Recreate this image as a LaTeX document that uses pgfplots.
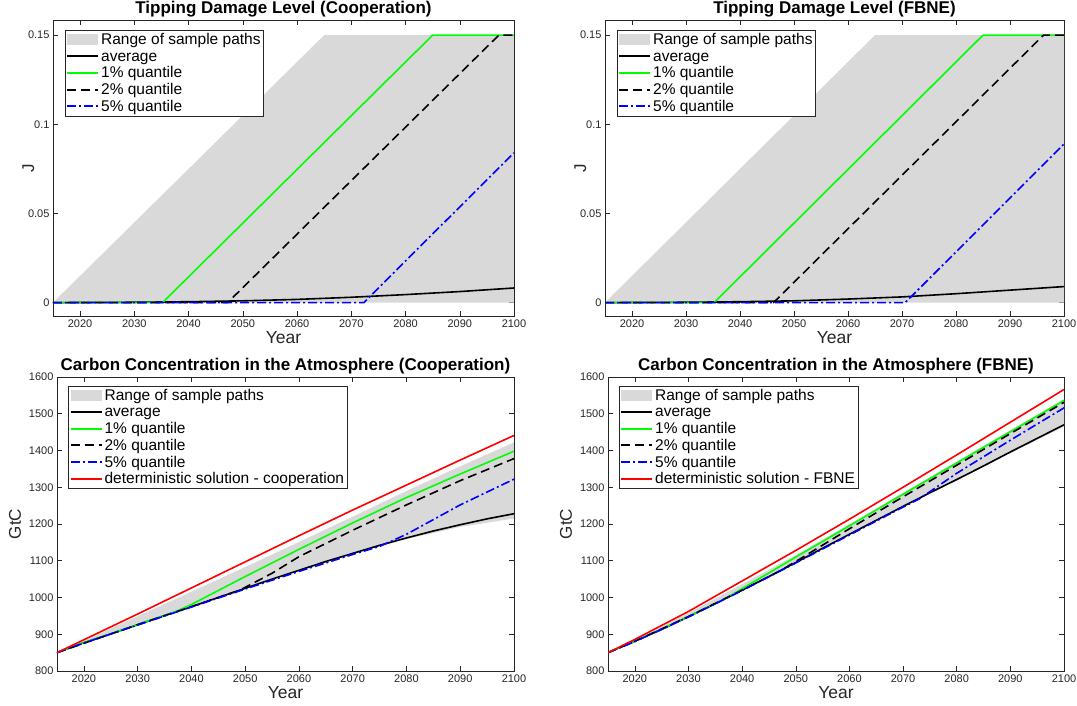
\documentclass[border=0pt]{standalone}
\usepackage{pgfplots}
\pgfplotsset{compat=1.18}
\usepackage{fontspec}
\setmainfont{Liberation Sans}
\definecolor{axgray}{rgb}{0.15,0.15,0.15}
\definecolor{rangegray}{rgb}{0.85,0.85,0.85}
\definecolor{mgreen}{rgb}{0,1,0}
\definecolor{mblue}{rgb}{0,0,1}
\definecolor{mred}{rgb}{1,0,0}
\pgfplotsset{
  mystyle/.style={
    scale only axis,
    xmin=2015, xmax=2100,
    xtick={2020,2030,...,2100},
    axis line style={axgray, line width=0.5pt},
    tick style={axgray, line width=0.5pt},
    tick align=inside,
    major tick length=5pt,
    xtick pos=both, ytick pos=both,
    ticklabel style={font=\fontsize{11}{12}\selectfont, text=axgray},
    /pgf/number format/assume math mode=true,
    /pgf/number format/1000 sep={},
    xlabel={Year},
    xlabel style={font=\fontsize{17.5}{19}\selectfont, text=axgray, yshift=3pt},
    ylabel style={font=\fontsize{17}{19}\selectfont, text=axgray},
    title style={font=\fontsize{17}{19}\bfseries\selectfont, yshift=-7pt},
    legend cell align=left,
    legend style={font=\fontsize{15.5}{15.5}\selectfont, draw=axgray,
      anchor=north west, inner sep=1pt, row sep=0pt,
      /tikz/every even column/.append style={text height=11.2pt, text depth=3.3pt, inner ysep=0.6pt}},
  },
  arealeg/.style={legend image code/.code={\fill[rangegray] (0pt,-5.5pt) rectangle (31pt,5.5pt);}},
  blk/.style={draw=black, line width=1.6pt,
    legend image code/.code={\draw[black, line width=2pt] (0pt,0pt) -- (31pt,0pt);}},
  grn/.style={draw=mgreen, line width=1.6pt,
    legend image code/.code={\draw[mgreen, line width=2pt] (0pt,0pt) -- (31pt,0pt);}},
  rd/.style={draw=mred, line width=1.6pt,
    legend image code/.code={\draw[mred, line width=2pt] (0pt,0pt) -- (31pt,0pt);}},
  dsh/.style={draw=black, line width=1.6pt, dash pattern=on 9pt off 5pt,
    legend image code/.code={\draw[black, line width=2pt, dash pattern=on 9pt off 5pt] (0pt,0pt) -- (31pt,0pt);}},
  dd/.style={draw=mblue, line width=1.6pt, dash pattern=on 9pt off 3pt on 2pt off 3pt,
    legend image code/.code={\draw[mblue, line width=2pt, dash pattern=on 9pt off 3pt on 2pt off 3pt] (0pt,0pt) -- (31pt,0pt);}},
}
\begin{document}
\begin{tikzpicture}
\useasboundingbox (0pt,0pt) rectangle (1077pt,706pt);

% ---------- Top left ----------
\begin{axis}[mystyle, at={(53pt,390pt)}, anchor=south west, width=461pt, height=296pt,
  ymin=-0.0075, ymax=0.1585, ytick={0,0.05,0.1,0.15},
  yticklabels={0,0.05,0.1,0.15},
  ylabel={J}, ylabel style={yshift=-13pt},
  title={Tipping Damage Level (Cooperation)},
  legend style={at={(0.026,0.966)}}]
\addplot[arealeg, fill=rangegray, draw=none] coordinates {(2015,0) (2065,0.15) (2100,0.15) (2100,0) (2015,0)} \closedcycle;
\addlegendentry{Range of sample paths}
\addplot[blk] coordinates {(2015,0) (2030,0.0002) (2040,0.0005) (2050,0.001) (2060,0.0018) (2070,0.003) (2080,0.0045) (2090,0.0062) (2100,0.0082)};
\addlegendentry{average}
\addplot[grn] coordinates {(2015,0) (2035.2,0) (2085,0.15) (2100,0.15)};
\addlegendentry{1\% quantile}
\addplot[dsh] coordinates {(2015,0) (2047.2,0) (2097.2,0.15) (2100,0.15)};
\addlegendentry{2\% quantile}
\addplot[dd] coordinates {(2015,0) (2072.3,0) (2100,0.084)};
\addlegendentry{5\% quantile}
\end{axis}

% ---------- Top right ----------
\begin{axis}[mystyle, at={(605pt,390pt)}, anchor=south west, width=459pt, height=296pt,
  ymin=-0.0075, ymax=0.1585, ytick={0,0.05,0.1,0.15},
  yticklabels={0,0.05,0.1,0.15},
  ylabel={J}, ylabel style={yshift=-13pt},
  title={Tipping Damage Level (FBNE)},
  legend style={at={(0.026,0.966)}}]
\addplot[arealeg, fill=rangegray, draw=none] coordinates {(2015,0) (2065,0.15) (2100,0.15) (2100,0) (2015,0)} \closedcycle;
\addlegendentry{Range of sample paths}
\addplot[blk] coordinates {(2015,0) (2030,0.0002) (2040,0.0005) (2050,0.001) (2060,0.002) (2070,0.0032) (2080,0.005) (2090,0.007) (2100,0.009)};
\addlegendentry{average}
\addplot[grn] coordinates {(2015,0) (2035.2,0) (2085,0.15) (2100,0.15)};
\addlegendentry{1\% quantile}
\addplot[dsh] coordinates {(2015,0) (2046.2,0) (2096.2,0.15) (2100,0.15)};
\addlegendentry{2\% quantile}
\addplot[dd] coordinates {(2015,0) (2070.6,0) (2100,0.089)};
\addlegendentry{5\% quantile}
\end{axis}

% ---------- Bottom left ----------
\begin{axis}[mystyle, at={(57pt,35pt)}, anchor=south west, width=457pt, height=294pt,
  ymin=800, ymax=1600, ytick={800,900,...,1600},
  ylabel={GtC}, ylabel style={yshift=1pt},
  title={Carbon Concentration in the Atmosphere (Cooperation)},
  legend style={at={(0.025,0.97)}}]
\addplot[arealeg, fill=rangegray, draw=none] coordinates {
 (2015,850) (2020,882) (2030,949) (2040,1016) (2050,1083) (2060,1151) (2070,1220) (2080,1290) (2090,1357) (2100,1422)
 (2100,1215) (2090,1192) (2080,1159) (2070,1119) (2060,1073) (2050,1024) (2040,974) (2030,925) (2020,876) (2015,850)};
\addlegendentry{Range of sample paths}
\addplot[blk] coordinates {(2015,850) (2020,877) (2025,901) (2030,926) (2035,951) (2040,975) (2045,1000) (2050,1025) (2055,1050) (2060,1074) (2065,1098) (2070,1120) (2075,1142) (2080,1162) (2085,1181) (2090,1198) (2095,1214) (2100,1228)};
\addlegendentry{average}
\addplot[grn] coordinates {(2015,850) (2020,877) (2025,901) (2030,926) (2035,951) (2037,961) (2040,981) (2050,1057) (2060,1131) (2070,1203) (2080,1272) (2090,1336) (2100,1398)};
\addlegendentry{1\% quantile}
\addplot[dsh] coordinates {(2015,850) (2030,926) (2040,975) (2049,1020) (2055,1066) (2060,1111) (2070,1183) (2080,1252) (2090,1318) (2100,1378)};
\addlegendentry{2\% quantile}
\addplot[dd] coordinates {(2015,850) (2020,876) (2030,925) (2040,974) (2050,1023) (2060,1071) (2070,1117) (2075,1139) (2080,1172) (2090,1252) (2100,1322)};
\addlegendentry{5\% quantile}
\addplot[rd] coordinates {(2015,850) (2020,885) (2030,955) (2040,1026) (2050,1097) (2060,1168) (2070,1238) (2080,1306) (2090,1374) (2100,1441)};
\addlegendentry{deterministic solution - cooperation}
\end{axis}

% ---------- Bottom right ----------
\begin{axis}[mystyle, at={(608pt,35pt)}, anchor=south west, width=456pt, height=294pt,
  ymin=800, ymax=1600, ytick={800,900,...,1600},
  ylabel={GtC}, ylabel style={yshift=1pt},
  title={Carbon Concentration in the Atmosphere (FBNE)},
  legend style={at={(0.024,0.97)}}]
\addplot[arealeg, fill=rangegray, draw=none] coordinates {
 (2015,850) (2020,884) (2030,958) (2040,1036) (2050,1116) (2060,1200) (2070,1285) (2080,1370) (2090,1455) (2100,1540)
 (2100,1465) (2090,1393) (2080,1318) (2070,1245) (2060,1170) (2050,1093) (2040,1018) (2030,946) (2020,880) (2015,850)};
\addlegendentry{Range of sample paths}
\addplot[blk] coordinates {(2015,850) (2020,881) (2025,913) (2030,948) (2035,983) (2040,1020) (2045,1057) (2050,1095) (2055,1134) (2060,1172) (2065,1210) (2070,1248) (2075,1285) (2080,1321) (2085,1358) (2090,1396) (2095,1433) (2100,1470)};
\addlegendentry{average}
\addplot[grn] coordinates {(2015,850) (2020,881) (2030,948) (2037,998) (2040,1024) (2050,1110) (2060,1195) (2070,1281) (2080,1366) (2090,1451) (2100,1536)};
\addlegendentry{1\% quantile}
\addplot[dsh] coordinates {(2015,850) (2020,881) (2030,948) (2040,1020) (2047,1072) (2050,1098) (2060,1187) (2070,1274) (2080,1360) (2090,1446) (2100,1531)};
\addlegendentry{2\% quantile}
\addplot[dd] coordinates {(2015,850) (2020,880) (2030,947) (2040,1019) (2050,1094) (2060,1170) (2070,1246) (2073,1268) (2080,1338) (2090,1428) (2100,1516)};
\addlegendentry{5\% quantile}
\addplot[rd] coordinates {(2015,850) (2020,886) (2030,962) (2040,1045) (2050,1128) (2060,1213) (2070,1300) (2080,1388) (2090,1477) (2100,1566)};
\addlegendentry{deterministic solution - FBNE}
\end{axis}
\end{tikzpicture}
\end{document}
